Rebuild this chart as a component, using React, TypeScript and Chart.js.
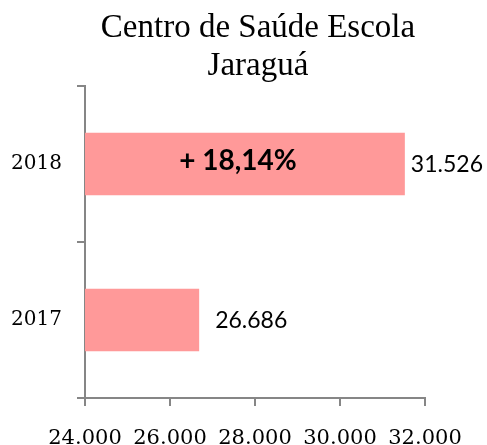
import React, { useEffect, useRef } from "react";
import { Chart, registerables } from "chart.js";

Chart.register(...registerables);

const titleLines = ["Centro de Saúde Escola", "Jaraguá"];
const categories = ["2018", "2017"];
const values = [31526, 26686];
const changeLabel = "+ 18,14%";
const xMin = 24000;
const xMax = 32000;
const xStep = 2000;

const fmt = (v: number) => String(Math.round(v)).replace(/\B(?=(\d{3})+(?!\d))/g, ".");

const AXIS = "#868686";

export default function App() {
  const ref = useRef<HTMLCanvasElement>(null);
  useEffect(() => {
    const canvas = ref.current!;
    const titlePlugin = {
      id: "customTitle",
      afterDraw(chart: any) {
        const ctx = chart.ctx;
        const ca = chart.chartArea;
        ctx.save();
        ctx.fillStyle = "#000";
        ctx.font = "33px 'Liberation Serif', serif";
        ctx.textAlign = "center";
        ctx.textBaseline = "alphabetic";
        const cx = (ca.left + ca.right) / 2 + 3;
        ctx.fillText(titleLines[0], cx, 37);
        ctx.fillText(titleLines[1], cx, 75);
        ctx.restore();
      },
    };
    const labelPlugin = {
      id: "barLabels",
      afterDatasetsDraw(chart: any) {
        const ctx = chart.ctx;
        const meta = chart.getDatasetMeta(0);
        const offsets = [6, 16];
        ctx.save();
        ctx.fillStyle = "#000";
        ctx.textBaseline = "middle";
        meta.data.forEach((bar: any, i: number) => {
          ctx.font = "23px Lato, sans-serif";
          ctx.textAlign = "left";
          ctx.fillText(fmt(values[i]), bar.x + offsets[i], bar.y + 1);
        });
        const top = meta.data[0];
        const left = chart.chartArea.left;
        ctx.font = "bold 28px Lato, sans-serif";
        ctx.textAlign = "center";
        ctx.fillText(changeLabel, (left + top.x) / 2 - 7, top.y - 3);
        ctx.restore();
      },
    };
    const chart = new Chart(canvas, {
      type: "bar",
      data: {
        labels: categories,
        datasets: [
          {
            data: values,
            backgroundColor: "#FF9999",
            borderWidth: 0,
            barPercentage: 0.4,
            categoryPercentage: 1,
          },
        ],
      },
      options: {
        indexAxis: "y",
        animation: false,
        responsive: false,
        layout: { padding: { top: 86, left: 0, right: 62, bottom: 0 } },
        plugins: { legend: { display: false }, tooltip: { enabled: false }, title: { display: false } },
        scales: {
          x: {
            min: xMin,
            max: xMax,
            afterFit: (s: any) => {
              s.height = 47;
            },
            ticks: {
              stepSize: xStep,
              color: "#000",
              padding: 20,
              font: { family: "'DejaVu Serif', serif", size: 21 },
              callback: (v: any) => fmt(Number(v)),
              maxRotation: 0,
            },
            grid: { drawOnChartArea: false, drawTicks: true, tickLength: 8, color: AXIS, lineWidth: 2 },
            border: { color: AXIS, width: 2 },
          },
          y: {
            afterFit: (s: any) => {
              s.width = 85;
            },
            ticks: {
              color: "#000",
              padding: 15,
              font: { family: "'DejaVu Serif', serif", size: 20 },
            },
            grid: { drawOnChartArea: false, drawTicks: true, tickLength: 8, color: AXIS, lineWidth: 2, offset: true },
            border: { color: AXIS, width: 2 },
          },
        },
      },
      plugins: [titlePlugin, labelPlugin],
    });
    return () => chart.destroy();
  }, []);
  return (
    <div style={{ position: "fixed", left: 0, top: 0, width: 487, height: 445, background: "#fff" }}>
      <canvas ref={ref} width={487} height={445} />
    </div>
  );
}
